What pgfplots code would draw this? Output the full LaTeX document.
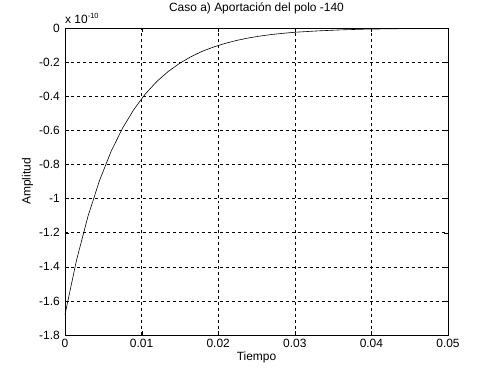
\documentclass[border=0pt]{standalone}
\usepackage{pgfplots}
\pgfplotsset{compat=1.18}
\usepackage{fontspec}
\setmainfont{Liberation Sans}
\begin{document}
\fontsize{12}{14}\selectfont
\begin{tikzpicture}
\path[use as bounding box] (0,0) rectangle (499bp,374bp);
\begin{axis}[
  at={(65bp,39bp)}, anchor=south west,
  scale only axis, width=383bp, height=307bp,
  xmin=0, xmax=0.05, ymin=-1.8, ymax=0,
  scaled x ticks=false, scaled y ticks=false,
  xtick={0,0.01,0.02,0.03,0.04,0.05},
  xticklabels={0,0.01,0.02,0.03,0.04,0.05},
  ytick={-1.8,-1.6,-1.4,-1.2,-1,-0.8,-0.6,-0.4,-0.2,0},
  yticklabels={-1.8,-1.6,-1.4,-1.2,-1,-0.8,-0.6,-0.4,-0.2,0},
  tick align=inside, major tick length=4bp,
  grid=major,
  major grid style={black, dashed, line width=0.5pt},
  axis line style={black, line width=0.6pt},
  tick style={black},
  title={Caso a) Aportación del polo -140},
  title style={at={(0.5,1)}, anchor=base, yshift=11bp, inner sep=0pt},
  xlabel={Tiempo}, ylabel={Amplitud},
  xlabel style={at={(0.5,0)}, anchor=north, yshift=-17bp, inner sep=0pt},
  ylabel style={yshift=-2bp},
  yticklabel style={xshift=-1bp},
  every tick label/.append style={font=\fontsize{12}{14}\selectfont},
  clip=false,
]
\addplot[black, line width=0.6pt] coordinates {
(0,-1.680) (0.0015,-1.362) (0.003,-1.104) (0.0045,-0.895) (0.006,-0.725)
(0.0075,-0.588) (0.009,-0.477) (0.0105,-0.386) (0.012,-0.313) (0.0135,-0.254)
(0.015,-0.206) (0.0165,-0.167) (0.018,-0.135) (0.0195,-0.110) (0.021,-0.089)
(0.0225,-0.072) (0.024,-0.058) (0.0255,-0.047) (0.027,-0.038) (0.0285,-0.031)
(0.030,-0.025) (0.033,-0.017) (0.036,-0.011) (0.039,-0.007) (0.042,-0.005)
(0.0455,-0.003)
};
\node[anchor=south west, inner sep=0pt] at ([yshift=4bp]rel axis cs:0,1) {x 10\raisebox{0.8ex}{\fontsize{7.5}{8}\selectfont -10}};
\end{axis}
\end{tikzpicture}
\end{document}
